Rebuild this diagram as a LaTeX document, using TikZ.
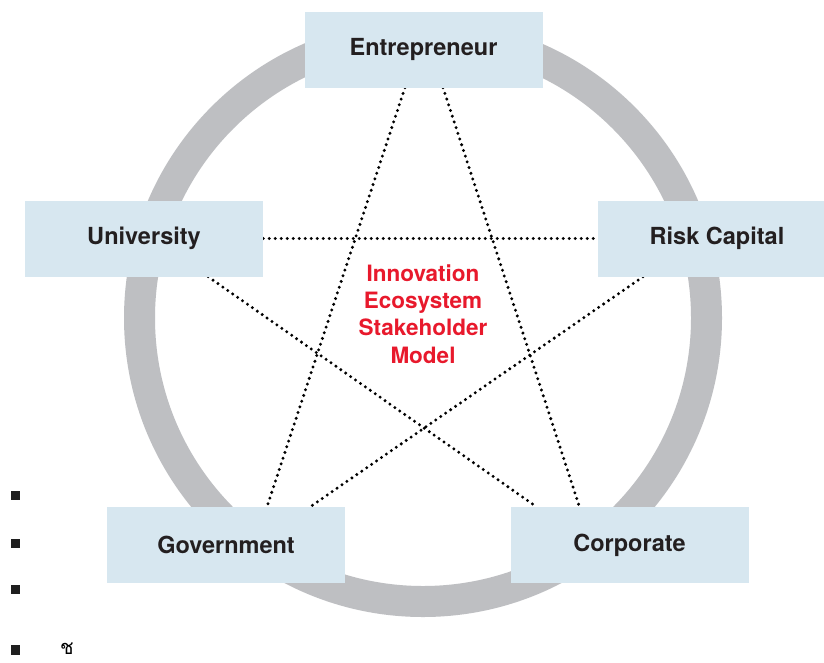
\documentclass[tikz,border=0pt]{standalone}
\usepackage{fontspec}
\setmainfont{TeX Gyre Heros}
\newfontfamily\thaifont[Script=Thai]{Loma}
\usetikzlibrary{calc}
\definecolor{boxblue}{RGB}{215,231,240}
\definecolor{ringgray}{RGB}{190,191,194}
\definecolor{labeltext}{RGB}{35,31,32}
\definecolor{modelred}{RGB}{232,25,44}
\tikzset{
  stakebox/.style={fill=boxblue, draw=none, minimum width=238pt, minimum height=76pt,
    inner sep=0pt, font=\fontsize{23.5}{26}\selectfont\bfseries, text=labeltext},
  starline/.style={line width=3.3pt, dash pattern=on 0pt off 6pt, line cap=round, draw=black},
  bulletsq/.style={fill=black!88, draw=none, minimum size=9.5pt, inner sep=0pt}
}
\begin{document}
\begin{tikzpicture}[x=1pt,y=-1pt]
\useasboundingbox (0,0) rectangle (824,662);
\fill[white] (0,0) rectangle (824,662);
% ring
\draw[ringgray, line width=31pt] (423,318) circle[radius=283.5];
% boxes (positions)
\node[stakebox] (ent) at (423.5,49.5) {Entrepreneur};
\node[stakebox] (uni) at (144,238.5) {University};
\node[stakebox] (risk) at (717,238.5) {Risk Capital};
\node[stakebox] (gov) at (226,545) {Government};
\node[stakebox] (corp) at (629.5,545) {Corporate};
% star lines
\draw[starline] ($(ent.south west)!0.422!(ent.south east)$) -- ($(gov.north west)!0.672!(gov.north east)$);
\draw[starline] ($(ent.south west)!0.582!(ent.south east)$) -- ($(corp.north west)!0.29!(corp.north east)$);
\draw[starline] (uni.east) -- (risk.west);
\draw[starline] ($(uni.south west)!0.769!(uni.south east)$) -- ($(corp.north west)!0.11!(corp.north east)$);
\draw[starline] ($(risk.south west)!0.19!(risk.south east)$) -- ($(gov.north west)!0.853!(gov.north east)$);
% redraw boxes on top
\node[stakebox] at (ent) {Entrepreneur};
\node[stakebox] at (uni) {University};
\node[stakebox] at (risk) {Risk Capital};
\node[stakebox] at (gov) {Government};
\node[stakebox] at (corp) {Corporate};
% center text
\node[text=modelred, font=\fontsize{22.5}{27.3}\selectfont\bfseries, align=center] (model) at (423,314)
  {Innovation\\Ecosystem\\Stakeholder\\Model};
% bullets
\node[bulletsq] (b1) at (15.5,495.5) {};
\node[bulletsq] (b2) at (15.5,543.5) {};
\node[bulletsq] (b3) at (15.5,589.5) {};
\node[bulletsq] (b4) at (15.5,650) {};
\node[anchor=base west, font=\thaifont\fontsize{20}{22}\selectfont, inner sep=0pt] (thai) at (60,654) {ช};
\end{tikzpicture}
\end{document}
